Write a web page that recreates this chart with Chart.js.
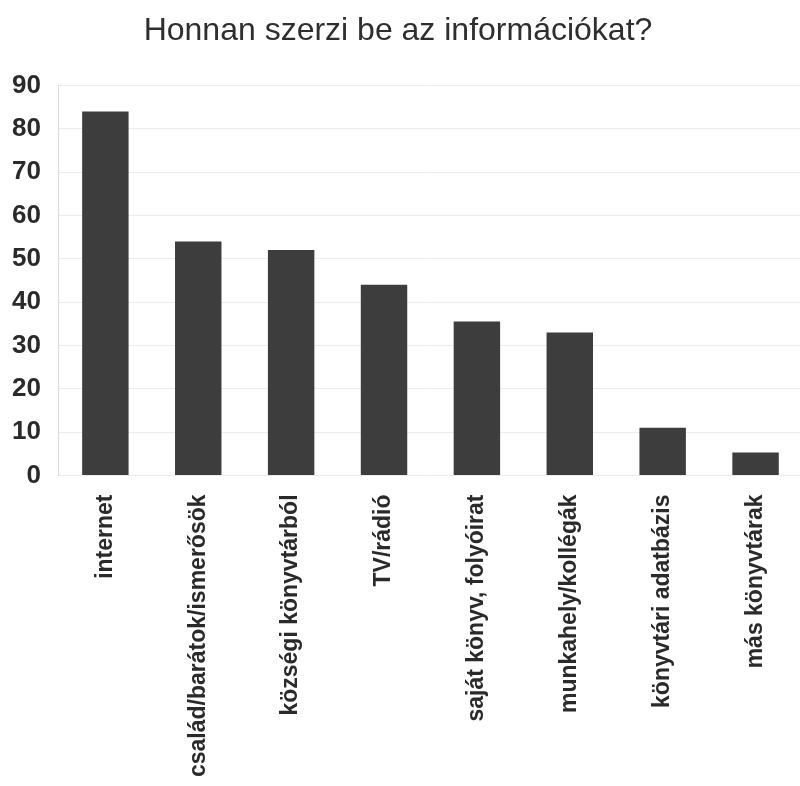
<!DOCTYPE html>
<html>
<head>
<meta charset="utf-8">
<script src="https://cdn.jsdelivr.net/npm/chart.js@4/dist/chart.umd.min.js"></script>
<style>
  html, body { margin: 0; padding: 0; background: #fff; overflow: hidden; }
  #wrap { width: 800px; height: 786px; overflow: hidden; }
  #infoChart { margin-left: -6px; display: block; }
</style>
</head>
<body>
<div id="wrap"><canvas id="infoChart" width="808" height="794"></canvas></div>
<script>
// adatok
const categories = ['internet', 'család/barátok/ismerősök', 'községi könyvtárból', 'TV/rádió',
  'saját könyv, folyóirat', 'munkahely/kollégák', 'könyvtári adatbázis', 'más könyvtárak'];
const values = [84, 54, 52, 44, 35.5, 33, 11, 5.3];
const yTicks = [0, 10, 20, 30, 40, 50, 60, 70, 80, 90];

const FONT = "'Liberation Sans', Arial, sans-serif";

new Chart(document.getElementById('infoChart'), {
  type: 'bar',
  data: {
    labels: categories,
    datasets: [{ data: values, backgroundColor: '#3d3d3d', borderWidth: 0,
      barPercentage: 0.5, categoryPercentage: 1 }]
  },
  options: {
    responsive: false,
    animation: false,
    devicePixelRatio: 1,
    layout: { padding: { left: 0, right: 0, top: 0, bottom: 6 } },
    plugins: {
      legend: { display: false },
      tooltip: { enabled: false },
      title: {
        display: true,
        text: 'Honnan szerzi be az információkat?',
        color: '#2e2e2e',
        font: { family: FONT, size: 32, weight: 'normal' },
        padding: { top: 12, bottom: 35 }
      }
    },
    scales: {
      x: {
        grid: { display: false },
        border: { display: false },
        ticks: {
          color: '#2a2a2a',
          font: { family: FONT, size: 23, weight: 'bold' },
          minRotation: 90, maxRotation: 90,
          padding: 11
        }
      },
      y: {
        min: 0, max: 90,
        afterBuildTicks: axis => { axis.ticks = yTicks.map(v => ({ value: v })); },
        grid: { color: '#ececec', drawTicks: false },
        border: { color: '#dcdcdc' },
        ticks: {
          color: '#2a2a2a',
          font: { family: FONT, size: 26, weight: 'bold' },
          padding: 18
        }
      }
    }
  }
});
</script>
</body>
</html>
